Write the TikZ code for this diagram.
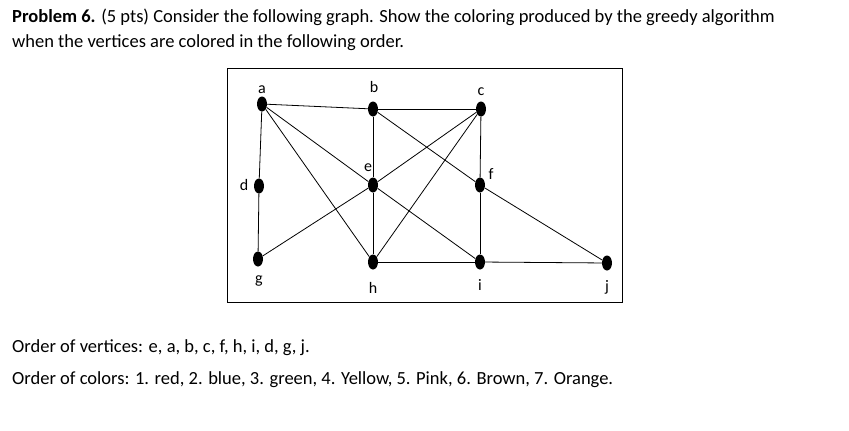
\documentclass[tikz,border=0pt]{standalone}
\usepackage{fontspec}
\setmainfont{Carlito}
\usetikzlibrary{shapes.geometric}
\begin{document}
\begin{tikzpicture}[x=1pt,y=-1pt,
  vtx/.style={ellipse,fill=black,minimum width=10pt,minimum height=15pt,inner sep=0pt},
  lab/.style={font=\fontsize{16}{18}\selectfont,inner sep=0pt},
  txt/.style={font=\fontsize{18.5}{22}\selectfont,anchor=base west,inner sep=0pt},
  edge/.style={line width=0.8pt}]
\useasboundingbox (0,0) rectangle (849,431);
\node[txt] (t1) at (12,23) {\textbf{Problem 6.} (5 pts) Consider the following graph. Show the coloring produced by the greedy algorithm};
\node[txt] (t2) at (12,47) {when the vertices are colored in the following order.};
\draw[line width=0.8pt] (227,68) rectangle (622,302);
\node[vtx] (a) at (262,104) {};
\node[vtx] (b) at (373,109) {};
\node[vtx] (c) at (481,109) {};
\node[vtx] (d) at (259,186) {};
\node[vtx] (e) at (373,185) {};
\node[vtx] (f) at (480,185) {};
\node[vtx] (g) at (258,259) {};
\node[vtx] (h) at (373,262) {};
\node[vtx] (i) at (480,262) {};
\node[vtx] (j) at (607,263) {};
\foreach \u/\v in {a/b,b/c,a/d,d/g,a/e,a/h,b/e,b/f,c/e,c/h,c/f,e/g,e/h,e/i,f/i,f/j,h/i,i/j}
  \draw[edge] (\u) -- (\v);
\node[lab] (la) at (262,90) {a};
\node[lab] (lb) at (374,87) {b};
\node[lab] (lc) at (481,92) {c};
\node[lab] (ld) at (244,185) {d};
\node[lab] (le) at (368,168) {e};
\node[lab] (lf) at (491,174) {f};
\node[lab] (lg) at (259,281) {g};
\node[lab] (lh) at (373,288) {h};
\node[lab] (li) at (480,285) {i};
\node[lab] (lj) at (607,287) {j};
\node[txt] (o1) at (12,352) {Order of vertices: e, a, b, c, f, h, i, d, g, j.};
\node[txt] (o2) at (12,384) {Order of colors: 1. red, 2. blue, 3. green, 4. Yellow, 5. Pink, 6. Brown, 7. Orange.};
\end{tikzpicture}
\end{document}
